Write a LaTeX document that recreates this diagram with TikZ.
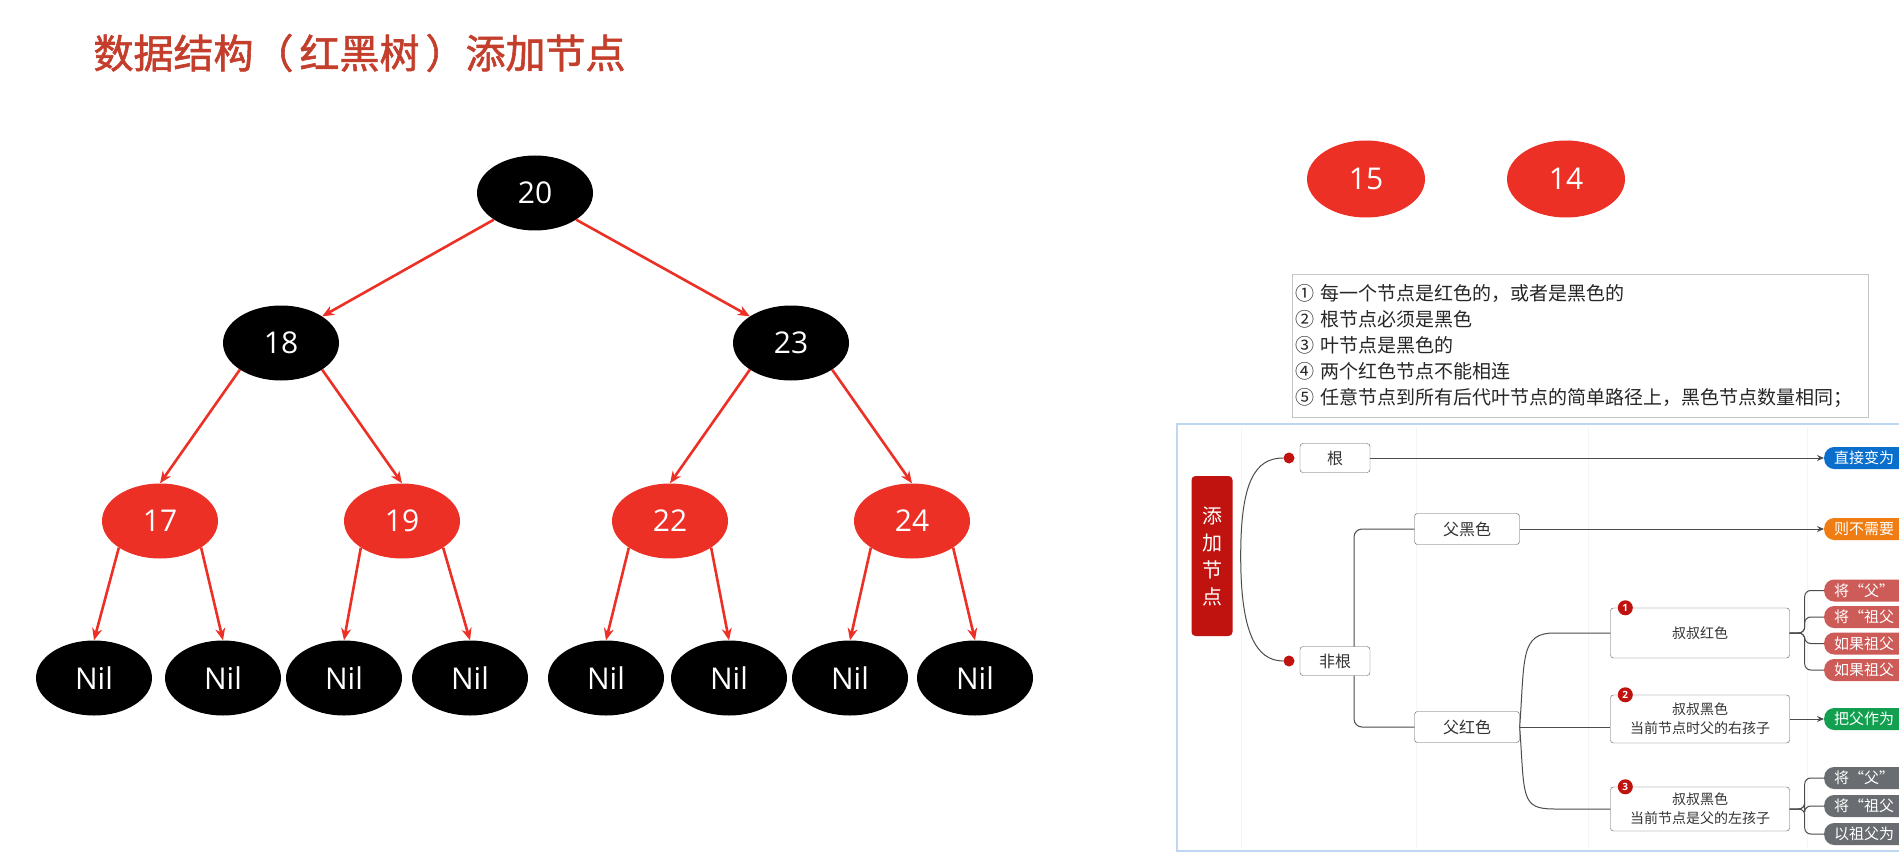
\documentclass[tikz,border=0pt]{standalone}
\usepackage{fontspec}
\setmainfont{Noto Sans CJK SC}
\newfontfamily\treefont{Open Sans}
\newfontfamily\titlefont[FakeBold=1.5]{Noto Sans CJK SC}
\usetikzlibrary{shapes.geometric,arrows.meta}

\tikzset{
  blacknode/.style={ellipse, fill=black, text=white, minimum width=116pt, minimum height=75pt, inner sep=0pt, font=\treefont\fontsize{30}{30}\selectfont},
  rednode/.style={blacknode, fill=rbred},
  treeedge/.style={rbred, line width=2.6pt, -{Stealth[length=12pt,width=10pt]}},
  topic/.style={draw=gray!70!black, rounded corners=3pt, fill=white, inner sep=0pt, text=black!80, font=\fontsize{16}{19}\selectfont},
  subtopic/.style={topic, minimum width=179pt, align=center, font=\fontsize{14}{19}\selectfont},
  rootbox/.style={fill=mapred, rounded corners=4pt, text=white, minimum width=41pt, minimum height=160pt, inner sep=0pt, align=center, font=\fontsize{20}{27}\selectfont},
  pill/.style={anchor=west, rounded corners=10pt, minimum height=22pt, text width=95pt, align=left, inner xsep=10pt, inner ysep=0pt, text=white, font=\fontsize{15}{15}\selectfont},
  badge/.style={circle, fill=mapred, text=white, inner sep=0pt, minimum size=15pt, font=\treefont\bfseries\fontsize{10}{10}\selectfont},
  dot/.style={circle, fill=mapred, inner sep=0pt, minimum size=11pt},
  mapline/.style={gray!60!black, line width=1pt},
  maparrow/.style={mapline, -{Stealth[length=7pt,width=6pt]}},
}

\begin{document}
\begin{tikzpicture}[x=1pt,y=-1pt]
  \useasboundingbox (0,0) rectangle (1899,861);
  \clip (0,0) rectangle (1899,861);

  \definecolor{rbred}{RGB}{236,48,38}
  \definecolor{titlered}{RGB}{196,62,44}
  \definecolor{mapred}{RGB}{192,18,14}
  \definecolor{frameblue}{RGB}{190,214,240}
  \definecolor{pillblue}{RGB}{10,110,205}
  \definecolor{pillorange}{RGB}{240,125,20}
  \definecolor{pillred}{RGB}{205,92,88}
  \definecolor{pillgreen}{RGB}{18,160,80}
  \definecolor{pillgray}{RGB}{105,108,112}

  % Title
  \node[anchor=west, text=titlered, font=\titlefont\fontsize{40}{40}\selectfont] (title) at (90,53) {数据结构（\hspace{6pt}红黑树\hspace{6pt}）添加节点};

  % Red-black tree
  \node[blacknode] (n20) at (535,193) {20};
  \node[blacknode] (n18) at (281,343) {18};
  \node[blacknode] (n23) at (791,343) {23};
  \node[rednode] (n17) at (160,521) {17};
  \node[rednode] (n19) at (402,521) {19};
  \node[rednode] (n22) at (670,521) {22};
  \node[rednode] (n24) at (912,521) {24};
  \foreach \x [count=\i] in {94,223,344,470,606,729,850,975} \node[blacknode] (nil\i) at (\x,678) {Nil};
  \draw[treeedge] (n20.south west) -- (n18.north east);
  \draw[treeedge] (n20.south east) -- (n23.north west);
  \foreach \p/\a/\c in {n18/south west/n17,n18/south east/n19,n23/south west/n22,n23/south east/n24,
      n17/south west/nil1,n17/south east/nil2,n19/south west/nil3,n19/south east/nil4,
      n22/south west/nil5,n22/south east/nil6,n24/south west/nil7,n24/south east/nil8}
    \draw[treeedge] (\p.\a) -- (\c.north);

  % Nodes to be added
  \node[rednode, minimum width=118pt, minimum height=77pt] (n15) at (1366,179) {15};
  \node[rednode, minimum width=118pt, minimum height=77pt] (n14) at (1566,179) {14};

  % Rules
  \node[draw=gray!45, fill=white, anchor=north west, text width=570pt, align=left, inner xsep=3pt, inner ysep=10pt, text=black!85, font=\fontsize{19}{26}\selectfont] (rules) at (1292,274)
    {① 每一个节点是红色的，或者是黑色的\\② 根节点必须是黑色\\③ 叶节点是黑色的\\④ 两个红色节点不能相连\\⑤ 任意节点到所有后代叶节点的简单路径上，黑色节点数量相同；};

  % Mind map
  \draw[frameblue, line width=2.5pt, fill=white] (1177,424) rectangle (1930,851);
  \foreach \x in {1241,1416,1588,1807} \draw[gray!8, line width=1pt] (\x,427) -- (\x,848);
  \node[rootbox] (addnode) at (1212,556) {添\\加\\节\\点};
  \node[dot] (dotgen) at (1289,458) {};
  \node[dot] (dotfei) at (1289,661) {};
  \coordinate (rootout) at ([xshift=8pt]addnode.east);
  \draw[mapline] (rootout) .. controls +(0,-75) and +(-28,0) .. (dotgen.west);
  \draw[mapline] (rootout) .. controls +(0,75) and +(-28,0) .. (dotfei.west);

  \node[topic, minimum width=70pt, minimum height=29pt] (gen) at (1335,458) {根};
  \node[topic, minimum width=105pt, minimum height=31pt] (fuhei) at (1467,529) {父黑色};
  \node[topic, minimum width=105pt, minimum height=31pt] (fuhong) at (1467,727) {父红色};
  \coordinate (feijoin) at (1354,661);
  \draw[mapline, rounded corners=8pt] (fuhei.west) -| (feijoin) |- (fuhong.west);
  \node[topic, minimum width=70pt, minimum height=29pt] (feigen) at (1335,661) {非根};

  % Cases under red parent
  \node[subtopic, minimum height=50pt] (uncle1) at (1700,633) {叔叔红色};
  \node[subtopic, minimum height=48pt] (uncle2) at (1700,719) {叔叔黑色\\当前节点时父的右孩子};
  \node[subtopic, minimum height=44pt] (uncle3) at (1700,809) {叔叔黑色\\当前节点是父的左孩子};
  \foreach \i in {1,2,3} \node[badge] (badge\i) at ([xshift=15pt]uncle\i.north west) {\i};
  \draw[mapline] (fuhong.east) -- (fuhong.east -| uncle2.west);
  \draw[mapline] (fuhong.east) .. controls +(5,-70) and +(-34,0) .. ([xshift=-56pt]uncle1.west) -- (uncle1.west);
  \draw[mapline] (fuhong.east) .. controls +(5,70) and +(-34,0) .. ([xshift=-56pt]uncle3.west) -- (uncle3.west);

  % Results (cut off at the right edge)
  \node[pill, fill=pillblue] (direct) at (1824,458) {直接变为};
  \draw[maparrow] (gen.east) -- (direct.west);
  \node[pill, fill=pillorange] (noop) at (1824,529) {则不需要};
  \draw[maparrow] (fuhei.east) -- (noop.west);
  \foreach \t [count=\i] in {将“父”,将“祖父,如果祖父,如果祖父} {
    \node[pill, fill=pillred] (redpill\i) at (1824,{564+26.5*\i}) {\t};
    \draw[mapline, rounded corners=6pt] (uncle1.east) -- ++(15,0) |- (redpill\i.west);
  }
  \node[pill, fill=pillgreen] (pivot) at (1824,719) {把父作为};
  \draw[maparrow] (uncle2.east) -- (pivot.west);
  \foreach \t [count=\i] in {将“父”,将“祖父,以祖父为} {
    \node[pill, fill=pillgray] (graypill\i) at (1824,{750+28*\i}) {\t};
    \draw[mapline, rounded corners=6pt] (uncle3.east) -- ++(15,0) |- (graypill\i.west);
  }
\end{tikzpicture}
\end{document}
